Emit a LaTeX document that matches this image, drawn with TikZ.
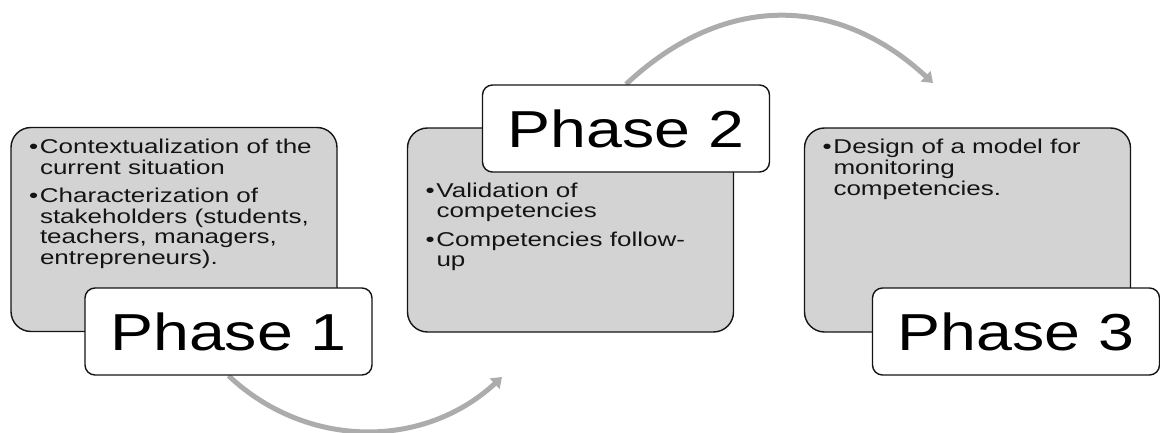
\documentclass[tikz,border=0pt]{standalone}
\usepackage{fontspec}
\setmainfont{Liberation Sans}
\newfontfamily\bodyfont[FakeStretch=1.3]{Liberation Sans}
\newfontfamily\phasefont[FakeStretch=1.24]{Liberation Sans}
\usetikzlibrary{arrows.meta,backgrounds}
\definecolor{boxgray}{RGB}{211,211,211}
\definecolor{arrgray}{RGB}{172,172,172}
\definecolor{edge}{RGB}{20,20,20}
\newcommand{\bitem}[1]{\par\hangindent=11pt\hangafter=1\noindent\makebox[11pt][l]{•}#1}
\newcommand{\boxtext}[2]{\parbox[c][204pt][t]{326pt}{\bodyfont\fontsize{20}{20.7}\selectfont\color{edge}\parskip=7.6pt\leftskip=18pt\vspace*{#1}#2}}
\tikzset{
  graybox/.style={draw=edge, line width=1.4pt, fill=boxgray, rounded corners=20pt,
    inner sep=0pt, minimum width=326pt, minimum height=204pt},
  phasebox/.style={draw=edge, line width=1.4pt, fill=white, rounded corners=10pt,
    inner sep=0pt, minimum width=287pt, minimum height=87pt, text=black,
    font=\phasefont\fontsize{52}{52}\selectfont},
  cyc/.style={draw=arrgray, line width=5pt, -{Triangle[length=10pt,width=14pt]}}
}
\begin{document}
\begin{tikzpicture}[x=1pt,y=1pt]
\useasboundingbox (0,0) rectangle (1160,432);
% gray content boxes
\node[graybox] (b1) at (174,202.5) {\boxtext{3.9pt}{%
  \bitem{Contextualization of the\\current situation}%
  \bitem{Characterization of\\stakeholders (students,\\teachers, managers,\\entrepreneurs).}}};
\node[graybox] (b2) at (570.5,202) {\boxtext{47pt}{%
  \bitem{Validation of\\competencies}%
  \bitem{Competencies follow-\\up}}};
\node[graybox] (b3) at (967.5,202) {\boxtext{3.9pt}{%
  \bitem{Design of a model for\\monitoring\\competencies.}}};
% phase labels
\node[phasebox] (p1) at (228.5,100.5) {Phase 1};
\node[phasebox] (p2) at (626,303.5) {Phase 2};
\node[phasebox] (p3) at (1016,100.5) {Phase 3};
% arrow end points
\coordinate (t1) at (502,55);
\coordinate (t2) at (933,349);
\begin{pgfonlayer}{background}
  \draw[cyc] (p1.south) to[bend right=43] (t1);
  \draw[cyc] (p2.north) to[bend left=43, looseness=1.1] (t2);
\end{pgfonlayer}
\end{tikzpicture}
\end{document}
